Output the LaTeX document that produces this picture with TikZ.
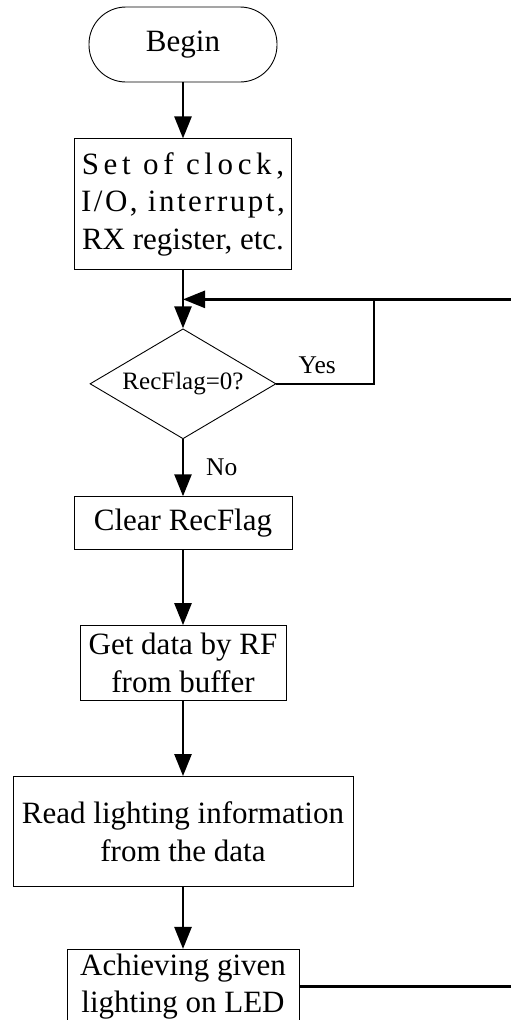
\documentclass[tikz,border=0pt]{standalone}
\usepackage{fontspec}
\setmainfont{Liberation Serif}
\usetikzlibrary{
    positioning,
    arrows.meta,
    shapes.geometric
}

\begin{document}
\begin{tikzpicture}[
    x=1pt, y=-1pt,
    % Estilos de Nodos
    terminal/.style={rectangle, rounded corners=37pt, draw=black, line width=0.9pt, inner sep=0pt,
        minimum width=188pt, minimum height=75pt, font=\fontsize{31}{37.5}\selectfont},
    process/.style={rectangle, draw=black, line width=0.9pt, inner sep=0pt, align=center,
        font=\fontsize{31}{37.5}\selectfont},
    decision/.style={diamond, aspect=1.7, draw=black, line width=0.9pt, inner sep=0pt,
        minimum width=186pt, minimum height=110pt, font=\fontsize{25}{30}\selectfont},
    lab/.style={inner sep=0pt, font=\fontsize{25.5}{30}\selectfont},
    % Estilos de Flechas
    flow/.style={-{Triangle[length=22pt, width=17pt]}, line width=2.6pt, draw=black},
    line/.style={line width=2.6pt, draw=black}
]
\useasboundingbox (0,0) rectangle (511,1020);
\clip (0,0) rectangle (511,1020);

% --- Nodos ---
\node[terminal] (begin) at (183,44.5) {Begin};
\node[process, minimum width=217pt, minimum height=131pt] (setup) [below=56pt of begin]
    {{\addfontfeature{LetterSpace=15}Set of clock,}\\
     {\addfontfeature{LetterSpace=8}I/O, interrupt,}\\
     RX register, etc.};
\coordinate[below=29pt of setup] (merge);
\node[decision] (check) [below=58pt of setup] {RecFlag=0?};
\node[process, minimum width=218pt, minimum height=53pt] (clear) [below=57pt of check] {Clear RecFlag};
\node[process, minimum width=206pt, minimum height=75pt] (getdata) [below=75pt of clear] {Get data by RF\\from buffer};
\node[process, minimum width=340pt, minimum height=110pt] (readinfo) [below=75pt of getdata] {Read lighting information\\from the data};
\node[process, minimum width=232pt, minimum height=74pt] (achieve) [below=62pt of readinfo] {Achieving given\\lighting on LED};

% --- Etiquetas ---
\node[lab, above right=10pt and 22pt of check.east] (yes) {Yes};
\node[lab, below right=19pt and 23pt of check.south] (no) {No};
\coordinate[right=191pt of merge] (yestop);

% --- Flechas ---
\draw[flow] (begin) -- (setup);
\draw[flow] (setup) -- (check);
\draw[flow] (check) -- (clear);
\draw[flow] (clear) -- (getdata);
\draw[flow] (getdata) -- (readinfo);
\draw[flow] (readinfo) -- (achieve);
\draw[line] (check.east) -| (yestop);
\draw[flow] (achieve.east) -- ++(240pt,0) |- (merge);

\end{tikzpicture}
\end{document}
